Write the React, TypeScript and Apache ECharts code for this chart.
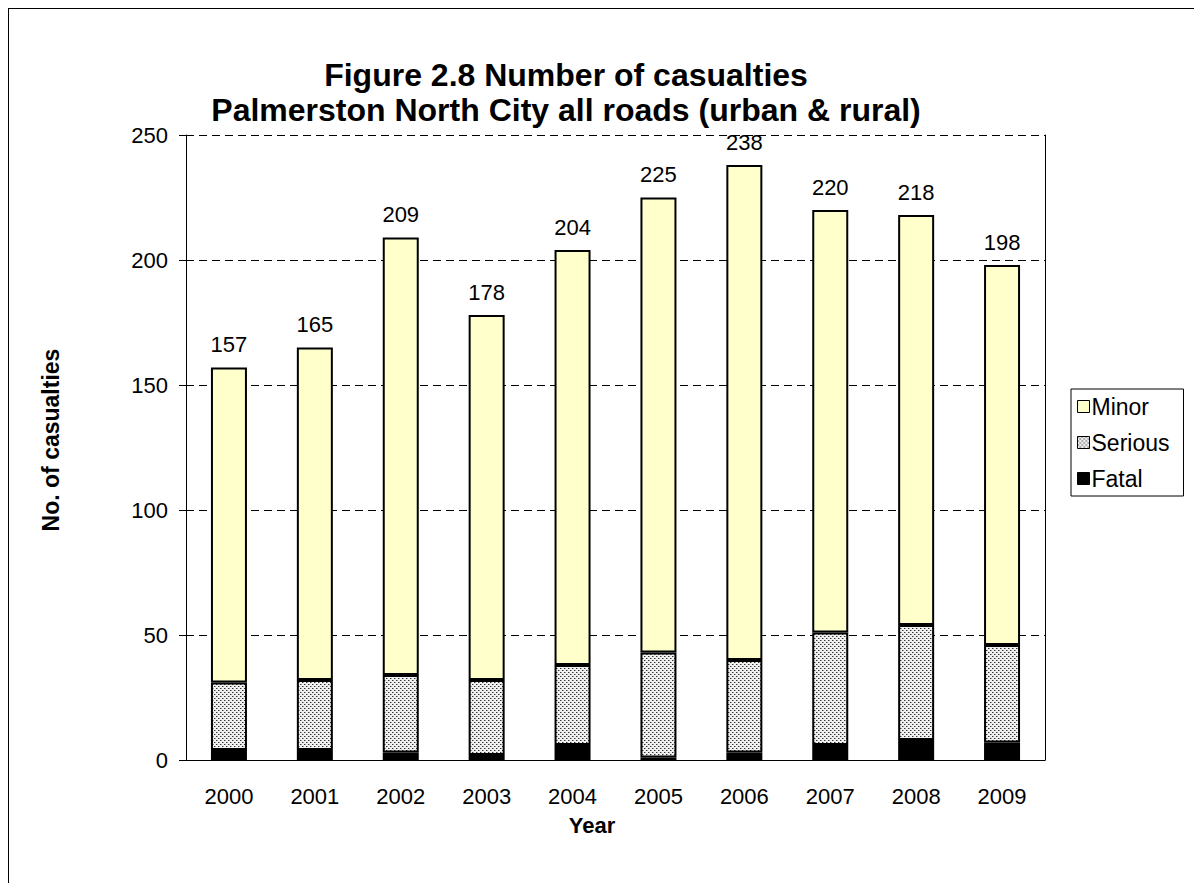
import React, { useEffect, useRef } from "react";
import * as echarts from "echarts";

const years = ["2000", "2001", "2002", "2003", "2004", "2005", "2006", "2007", "2008", "2009"];
const fatal = [4, 4, 3, 2, 6, 1, 3, 6, 8, 7];
const serious = [27, 28, 31, 30, 32, 42, 37, 45, 46, 39];
const minor = [126, 133, 175, 146, 166, 182, 198, 169, 164, 152];
const totals = [157, 165, 209, 178, 204, 225, 238, 220, 218, 198];
const yTicks = { min: 0, max: 250, interval: 50 };
const titleLines = ["Figure 2.8 Number of casualties", "Palmerston North City all roads (urban & rural)"];
const legendNames = ["Minor", "Serious", "Fatal"];

const FONT = '"Liberation Sans", Arial, sans-serif';

function makePattern() {
  const c = document.createElement("canvas");
  c.width = 4;
  c.height = 4;
  const ctx = c.getContext("2d")!;
  ctx.fillStyle = "#f0f0f0";
  ctx.fillRect(0, 0, 4, 4);
  ctx.fillStyle = "#333333";
  ctx.fillRect(0, 0, 1, 1);
  ctx.fillRect(2, 2, 1, 1);
  ctx.fillStyle = "#a0a0a0";
  ctx.fillRect(1, 0, 1, 1);
  ctx.fillRect(3, 2, 1, 1);
  return { image: c, repeat: "repeat", imageWidth: 4, imageHeight: 4 } as any;
}

export default function App() {
  const ref = useRef<HTMLDivElement>(null);
  useEffect(() => {
    if (!ref.current) return;
    const chart = echarts.init(ref.current, null, { renderer: "svg" });
    const pattern = makePattern();
    const border = { borderColor: "#000", borderWidth: 2 };
    chart.setOption({
      animation: false,
      backgroundColor: "#fff",
      graphic: [
        {
          type: "text",
          x: 558,
          y: 67,
          style: { text: titleLines[0], font: `bold 32px ${FONT}`, fill: "#000", textAlign: "center", textVerticalAlign: "middle" },
        },
        {
          type: "text",
          x: 558,
          y: 102,
          style: { text: titleLines[1], font: `bold 32px ${FONT}`, fill: "#000", textAlign: "center", textVerticalAlign: "middle" },
        },
        {
          type: "text",
          x: 43,
          y: 432,
          rotation: Math.PI / 2,
          style: { text: "No. of casualties", font: `bold 23px ${FONT}`, fill: "#000", textAlign: "center", textVerticalAlign: "middle" },
        },
        {
          type: "text",
          x: 584,
          y: 817,
          style: { text: "Year", font: `bold 22px ${FONT}`, fill: "#000", textAlign: "center", textVerticalAlign: "middle" },
        },
      ],
      legend: {
        orient: "vertical",
        left: 1063,
        top: 381,
        data: legendNames,
        icon: "rect",
        itemWidth: 12,
        itemHeight: 12,
        itemGap: 13,
        padding: [6, 14, 6, 6],
        borderColor: "#000",
        borderWidth: 1,
        textStyle: { fontSize: 23, fontFamily: FONT, color: "#000", padding: [0, 0, 0, -3] },
        itemStyle: { borderColor: "#000", borderWidth: 1 },
      },
      grid: { left: 178, top: 127, right: 157, bottom: 123 },
      xAxis: {
        type: "category",
        data: years,
        axisLine: { lineStyle: { color: "#000", width: 1 } },
        axisTick: { show: false },
        axisLabel: { fontSize: 22, fontFamily: FONT, color: "#000", margin: 25 },
      },
      yAxis: [
        {
          type: "value",
          min: yTicks.min,
          max: yTicks.max,
          interval: yTicks.interval,
          axisLine: { show: true, lineStyle: { color: "#000", width: 1 } },
          axisTick: { show: true, inside: false, length: 7, lineStyle: { color: "#000" } },
          axisLabel: { fontSize: 22, fontFamily: FONT, color: "#000", margin: 18 },
          splitLine: { show: true, lineStyle: { color: "#000", width: 1, type: [8, 5] } },
        },
        {
          type: "value",
          position: "right",
          min: yTicks.min,
          max: yTicks.max,
          interval: yTicks.interval,
          axisLine: { show: true, lineStyle: { color: "#000", width: 1 } },
          axisTick: { show: false },
          axisLabel: { show: false },
          splitLine: { show: false },
        },
      ],
      series: [
        {
          name: "Fatal",
          type: "bar",
          stack: "total",
          data: fatal,
          barWidth: 36,
          itemStyle: { color: "#000", ...border },
        },
        {
          name: "Serious",
          type: "bar",
          stack: "total",
          data: serious,
          barWidth: 36,
          itemStyle: { color: pattern, ...border },
        },
        {
          name: "Minor",
          type: "bar",
          stack: "total",
          data: minor,
          barWidth: 36,
          itemStyle: { color: "#FFFFCC", ...border },
          label: {
            show: true,
            position: "top",
            distance: 12,
            fontSize: 22,
            fontFamily: FONT,
            color: "#000",
            formatter: (p: any) => String(totals[p.dataIndex]),
          },
        },
      ],
    });
    return () => chart.dispose();
  }, []);

  return (
    <div style={{ position: "relative", width: 1194, height: 875, overflow: "hidden" }}>
      <div ref={ref} style={{ position: "absolute", left: 0, top: 0, width: 1194, height: 875 }} />
      <div
        style={{
          position: "absolute",
          left: -1,
          top: -1,
          width: 1400,
          height: 1000,
          borderLeft: "2px solid #000",
          borderTop: "2px solid #000",
          pointerEvents: "none",
        }}
      />
    </div>
  );
}
